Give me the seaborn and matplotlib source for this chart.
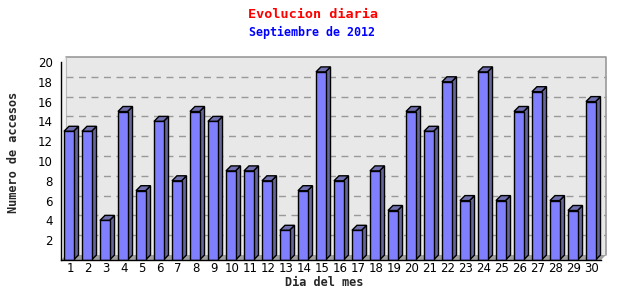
import numpy as np
import pandas as pd
import seaborn as sns
import matplotlib
matplotlib.use("Agg")
import matplotlib.pyplot as plt
from matplotlib.patches import Polygon

days = list(range(1, 31))
accesses = [13, 13, 4, 15, 7, 14, 8, 15, 14, 9, 9, 8, 3, 7, 19,
            8, 3, 9, 5, 15, 13, 18, 6, 19, 6, 15, 17, 6, 5, 16]
y_ticks = [2, 4, 6, 8, 10, 12, 14, 16, 18, 20]
title = "Evolucion diaria"
subtitle = "Septiembre de 2012"
x_label = "Dia del mes"
y_label = "Numero de accesos"

sns.set_style("white")
plt.rcParams["font.family"] = ["DejaVu Sans"]

W, H = 640, 300
fig = plt.figure(figsize=(6.4, 3.0), dpi=100)
ax_l, ax_b, ax_w, ax_h = 61, 40, 540, 198
ax = fig.add_axes([ax_l / W, ax_b / H, ax_w / W, ax_h / H])
ax.set_facecolor("none")

df = pd.DataFrame({"dia": [str(d) for d in days], "accesos": accesses})
sns.barplot(data=df, x="dia", y="accesos", color="#8080ff", saturation=1,
            width=0.53, edgecolor="black", linewidth=1.0, ax=ax, zorder=4)

ax.set_xlim(-0.5, len(days) - 0.5)
ax.set_ylim(0, 20)

# depth of 3D effect in pixels
dpx, dpy = 5.0, 5.0
ux = dpx / (ax_w / len(days))
uy = dpy / (ax_h / 20.0)

bars = list(ax.patches)

# back panel
back = Polygon([(-0.5 + ux, uy), (len(days) - 0.5 + ux, uy),
                (len(days) - 0.5 + ux, 20 + uy), (-0.5 + ux, 20 + uy)],
               closed=True, facecolor="#e8e8e8", edgecolor="none",
               zorder=0, clip_on=False)
ax.add_patch(back)
ax.plot([-0.5 + ux, len(days) - 0.5 + ux, len(days) - 0.5 + ux],
        [20 + uy, 20 + uy, uy], color="#999999", lw=1.2, zorder=1,
        clip_on=False)
# left wall
ax.add_patch(Polygon([(-0.5, 0), (-0.5 + ux, uy), (-0.5 + ux, 20 + uy), (-0.5, 20)],
                     closed=True, facecolor="#f2f2f2", edgecolor="none",
                     zorder=0.5, clip_on=False))
ax.plot([-0.5 + ux, -0.5 + ux], [uy, 20 + uy], color="#bbbbbb", lw=0.8,
        zorder=1, clip_on=False)
# floor
ax.add_patch(Polygon([(-0.5, 0), (len(days) - 0.5, 0),
                      (len(days) - 0.5 + ux, uy), (-0.5 + ux, uy)],
                     closed=True, facecolor="#a0a0a0", edgecolor="none",
                     zorder=1, clip_on=False))
# grid lines on back panel
for t in y_ticks[:-1]:
    ax.plot([-0.5 + ux, len(days) - 0.5 + ux], [t + uy, t + uy],
            color="#999999", lw=1.0, ls=(0, (5, 4)), zorder=2, clip_on=False)

# 3D sides/tops for bars
for p in bars:
    x0 = p.get_x() - 0.07
    w = p.get_width()
    h = p.get_height()
    p.set_x(x0)
    x1 = x0 + w
    side = Polygon([(x1, 0), (x1 + ux, uy), (x1 + ux, h + uy), (x1, h)],
                   closed=True, facecolor="#666699", edgecolor="black",
                   lw=1.0, zorder=3.5, clip_on=False)
    top = Polygon([(x0, h), (x0 + ux, h + uy), (x1 + ux, h + uy), (x1, h)],
                  closed=True, facecolor="#7070b0", edgecolor="black",
                  lw=1.0, zorder=3.5, clip_on=False)
    ax.add_patch(side)
    ax.add_patch(top)

for s in ["top", "right"]:
    ax.spines[s].set_visible(False)
for s in ["left", "bottom"]:
    ax.spines[s].set_color("black")
    ax.spines[s].set_linewidth(1)
    ax.spines[s].set_zorder(6)

ax.set_yticks(y_ticks)
ax.set_yticklabels([str(t) for t in y_ticks])
ax.set_xticks(np.arange(len(days)))
ax.set_xticklabels([str(d) for d in days])
ax.set_xticks(np.arange(len(days)) + 0.5, minor=True)
ax.tick_params(axis="x", which="major", length=0, pad=1.5, labelsize=8.5,
               colors="black")
ax.tick_params(axis="x", which="minor", length=4, direction="in",
               width=1, color="black")
ax.tick_params(axis="y", length=4, direction="out", width=1, pad=2,
               labelsize=8.5, colors="black")
ax.set_xlabel(x_label, family="DejaVu Sans Mono", weight="bold",
              fontsize=8.6)
ax.set_ylabel(y_label, family="DejaVu Sans Mono", weight="bold",
              fontsize=8.6)
ax.xaxis.set_label_coords(0.487, -0.083)
ax.yaxis.set_label_coords(-0.076, 0.545)

fig.text(313 / W, 1 - 14 / H, title, color="red", ha="center", va="center",
         family="DejaVu Sans Mono", weight="bold", fontsize=9.7)
fig.text(312 / W, 1 - 32 / H, subtitle, color="blue", ha="center",
         va="center", family="DejaVu Sans Mono", weight="bold", fontsize=8.4)

fig.savefig("out.png", dpi=100, facecolor="white")
